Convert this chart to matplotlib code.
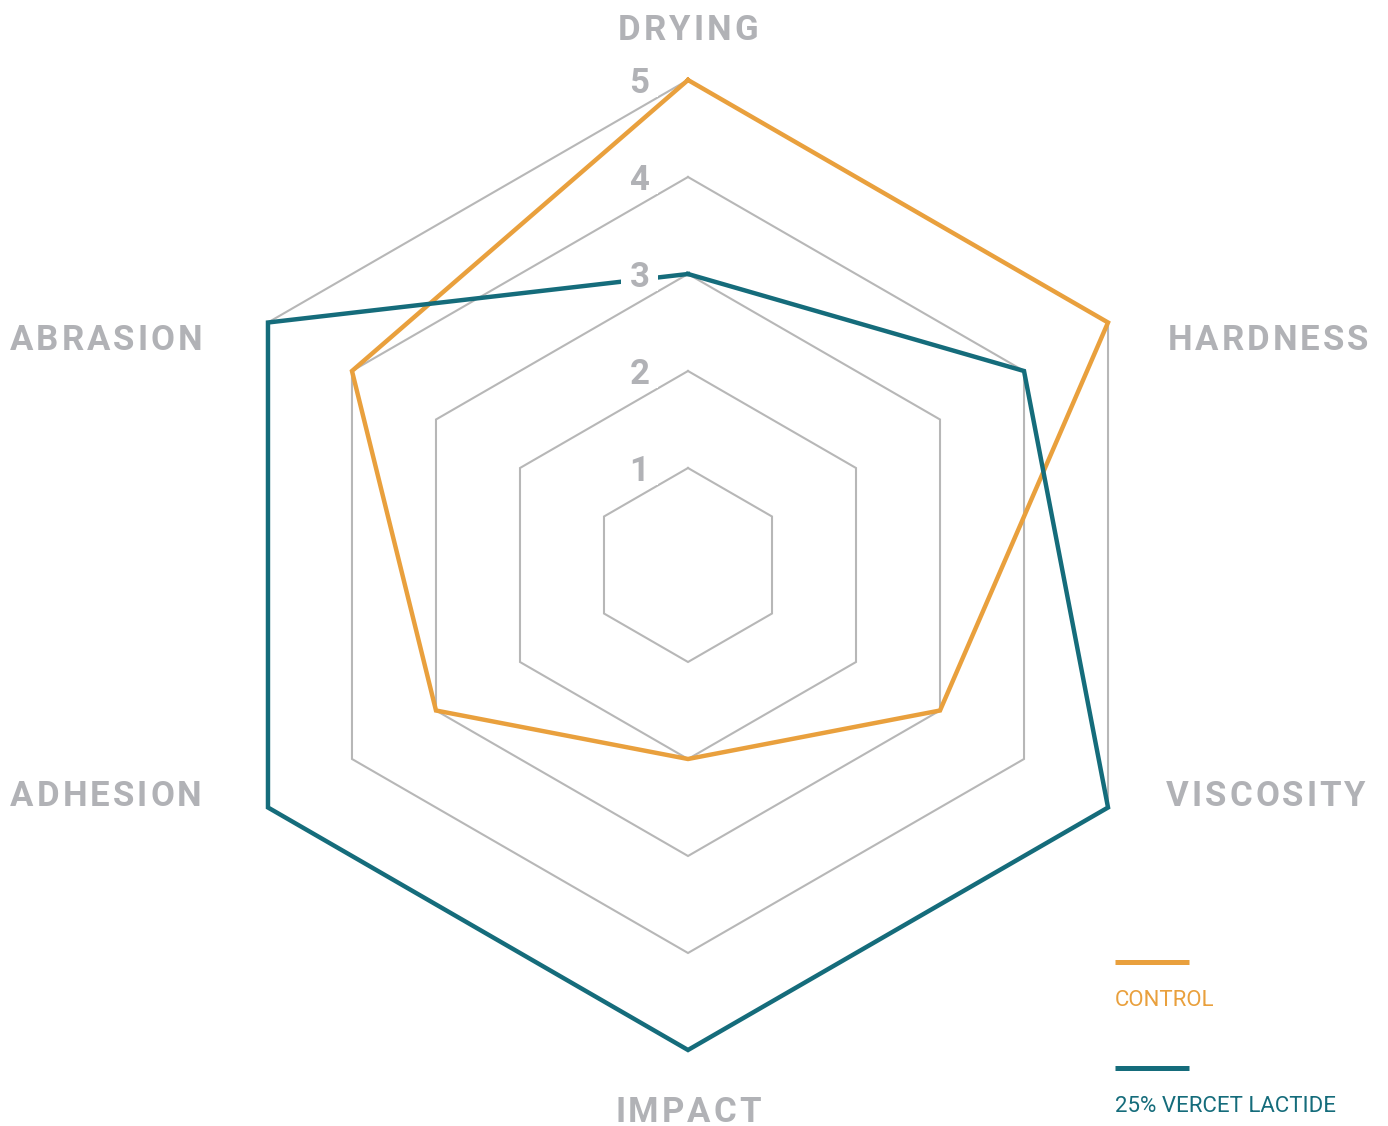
import numpy as np
import matplotlib.pyplot as plt
from matplotlib.patches import Rectangle

# radar categories, clockwise from the top
categories = ["DRYING", "HARDNESS", "VISCOSITY", "IMPACT", "ADHESION", "ABRASION"]
control = [5, 5, 3, 2, 3, 4]
vercet = [3, 4, 5, 5, 5, 5]
series_names = ["CONTROL", "25% VERCET LACTIDE"]
ring_levels = [1, 2, 3, 4, 5]

ORANGE = "#E9A03D"
TEAL = "#156C7B"
GRID = "#b7b7b7"
LABEL = "#b1b2b6"

plt.rcParams['font.family'] = ['Roboto', 'DejaVu Sans']

# pixel layout -> data units (one ring = 97 px)
unit = 97.0
cx, cy = 688.0, 565.0
W, H = 1388, 1126

fig = plt.figure(figsize=(W / 100, H / 100), dpi=100)
ax = fig.add_axes([0, 0, 1, 1])
ax.set_xlim(-cx / unit, (W - cx) / unit)
ax.set_ylim(-(H - cy) / unit, cy / unit)
ax.set_aspect('equal')
ax.axis('off')
renderer = fig.canvas.get_renderer()

angles = np.deg2rad(90 - 60 * np.arange(len(categories)))


def closed_xy(values):
    v = np.asarray(values, dtype=float)
    x = v * np.cos(angles)
    y = v * np.sin(angles)
    return np.append(x, x[0]), np.append(y, y[0])


def text_width(s, **kw):
    t = ax.text(0, 0, s, **kw)
    w = t.get_window_extent(renderer).width
    t.remove()
    return w


def spaced_label(px, py, s, spacing, **kw):
    # letter-spaced text centred on a pixel position
    total = text_width(s, **kw) + spacing * (len(s) - 1)
    x0 = px - total / 2
    for i, ch in enumerate(s):
        off = (text_width(s[:i], **kw) + i * spacing) if i else 0
        ax.text((x0 + off - cx) / unit, (cy - py) / unit, ch,
                ha='left', va='center', **kw)


# hexagonal grid rings
for lvl in ring_levels:
    gx, gy = closed_xy([lvl] * len(categories))
    ax.plot(gx, gy, color=GRID, lw=1.5, zorder=1, solid_joinstyle='miter')

# data polygons
x, y = closed_xy(control)
ax.plot(x, y, color=ORANGE, lw=3.2, zorder=3, solid_joinstyle='miter')
x, y = closed_xy(vercet)
ax.plot(x, y, color=TEAL, lw=3.2, zorder=4, solid_joinstyle='miter')

# ring value labels, each on a small white plate
for lvl in ring_levels:
    ax.add_patch(Rectangle((-0.5 - 0.19, lvl - 0.04 - 0.14), 0.38, 0.28,
                           facecolor='white', edgecolor='none', zorder=5))
    ax.text(-0.5, lvl - 0.04, str(lvl), ha='center', va='center', fontsize=25,
            color=LABEL, fontweight='bold', zorder=6)

# category labels (pixel positions in the reference)
label_px = [(688, 31), (1268, 341), (1266, 796), (688, 1112), (106, 796), (106, 341)]
for name, (px, py) in zip(categories, label_px):
    spaced_label(px, py, name, 3, fontsize=25, color=LABEL, fontweight='bold')

# legend
for i, (name, col) in enumerate(zip(series_names, [ORANGE, TEAL])):
    ly = 962 + i * 106
    ax.plot([(1115 - cx) / unit, (1189 - cx) / unit], [(cy - ly) / unit] * 2,
            color=col, lw=3.6, solid_capstyle='butt')
    ax.text((1115 - cx) / unit, (cy - ly - 39) / unit, name, ha='left', va='center',
            fontsize=16, color=col)

fig.savefig("out.png", dpi=100)
